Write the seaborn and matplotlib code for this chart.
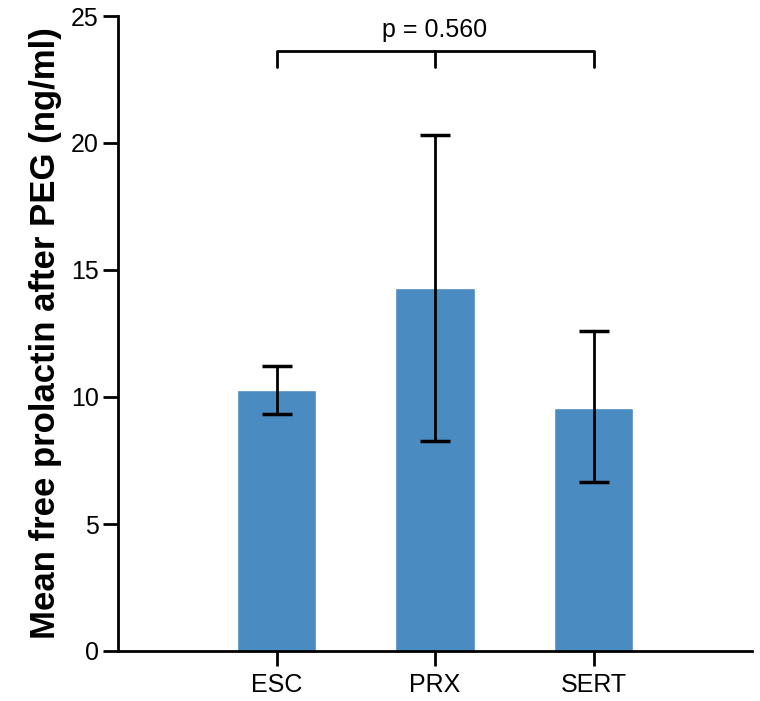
import matplotlib
matplotlib.use('Agg')
import matplotlib.pyplot as plt
import seaborn as sns
import numpy as np
import pandas as pd

# Data
groups = ['ESC', 'PRX', 'SERT']
means = [10.27, 14.28, 9.57]
err_low = [9.34, 8.25, 6.66]
err_high = [11.24, 20.32, 12.6]
p_label = 'p = 0.560'
bracket_y = 23.62
bracket_drop = 23.0

sns.set_style('ticks')
plt.rcParams['font.family'] = ['Liberation Sans', 'DejaVu Sans']

df = pd.DataFrame({'group': groups, 'mean': means})

fig = plt.figure(figsize=(7.6, 7.01), dpi=100)
ax = fig.add_axes([118 / 760, 1 - 651 / 701, (752 - 118) / 760, (651 - 16) / 701])

sns.barplot(data=df, x='group', y='mean', color='#4A8BC2', saturation=1,
            width=0.5, errorbar=None, ax=ax)

# Error bars (asymmetric)
x = np.arange(len(groups))
yerr = [np.array(means) - np.array(err_low), np.array(err_high) - np.array(means)]
ax.errorbar(x, means, yerr=yerr, fmt='none', ecolor='black', elinewidth=2,
            capsize=11, capthick=2.5)

# Significance bracket
ax.plot([x[0], x[0], x[2], x[2]], [bracket_drop, bracket_y, bracket_y, bracket_drop],
        color='black', lw=2, clip_on=False)
ax.plot([x[1], x[1]], [bracket_y, bracket_drop], color='black', lw=2)
ax.text(x[1], bracket_y + 0.35, p_label, ha='center', va='bottom', fontsize=18, color='black')

ax.set_xlim(-1, 3)
ax.set_ylim(0, 25)
ax.set_yticks([0, 5, 10, 15, 20, 25])
ax.set_xlabel('')
ax.set_ylabel('Mean free prolactin after PEG (ng/ml)', fontsize=25, fontweight='bold',
              color='black', labelpad=6)

for side in ['top', 'right']:
    ax.spines[side].set_visible(False)
for side in ['left', 'bottom']:
    ax.spines[side].set_linewidth(2)
    ax.spines[side].set_color('black')
ax.tick_params(axis='both', width=2, length=11, labelsize=18, color='black', labelcolor='black', pad=3)
ax.tick_params(axis='x', pad=5)

fig.savefig('out.png', dpi=100)
